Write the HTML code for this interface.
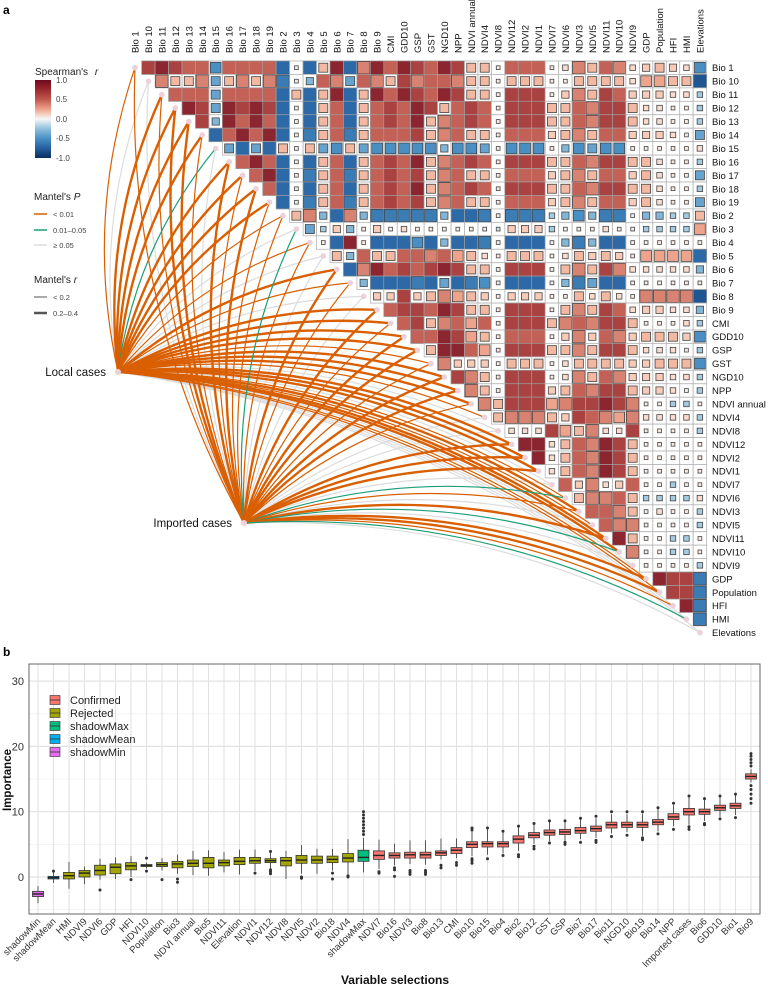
<!DOCTYPE html>
<html><head><meta charset="utf-8"><style>
body{margin:0;background:#fff;}
svg{display:block;font-family:"Liberation Sans",sans-serif;}
</style></head><body>
<svg id="fig" width="768" height="991" viewBox="0 0 768 991">
<text x="3" y="14" font-size="12" font-weight="bold">a</text>
<text x="3" y="656" font-size="12" font-weight="bold">b</text>
<g id="links"></g>
<g id="heat"></g>
<g id="legA">
<defs><linearGradient id="cbar" x1="0" y1="0" x2="0" y2="1">
<stop offset="0" stop-color="#6d0a1e"/><stop offset="0.125" stop-color="#9c2a30"/><stop offset="0.25" stop-color="#c0584f"/><stop offset="0.375" stop-color="#eea48c"/><stop offset="0.5" stop-color="#f7f7f7"/><stop offset="0.625" stop-color="#8fc0dc"/><stop offset="0.75" stop-color="#4a8fc4"/><stop offset="0.875" stop-color="#24609e"/><stop offset="1" stop-color="#0b2f5c"/></linearGradient></defs>
<text x="35" y="75" font-size="10" fill="#222">Spearman's <tspan font-style="italic" dx="4">r</tspan></text>
<rect x="35" y="80" width="16" height="78" fill="url(#cbar)"/>
<g font-size="8" fill="#444"><text x="56" y="83">1.0</text><text x="56" y="102">0.5</text><text x="56" y="122">0.0</text><text x="56" y="141">-0.5</text><text x="56" y="161">-1.0</text></g>
<text x="34" y="200" font-size="10" fill="#222">Mantel's <tspan font-style="italic">P</tspan></text>
<line x1="34" y1="214" x2="47" y2="214" stroke="#d95f02" stroke-width="1.5"/><text x="53" y="217" font-size="7.5" fill="#444">&lt; 0.01</text>
<line x1="34" y1="230" x2="47" y2="230" stroke="#1b9e77" stroke-width="1.5"/><text x="53" y="233" font-size="7.5" fill="#444">0.01–0.05</text>
<line x1="34" y1="245" x2="47" y2="245" stroke="#dcdcdc" stroke-width="1.5"/><text x="53" y="248" font-size="7.5" fill="#444">≥ 0.05</text>
<text x="34" y="283" font-size="10" fill="#222">Mantel's <tspan font-style="italic">r</tspan></text>
<line x1="34" y1="297" x2="47" y2="297" stroke="#555" stroke-width="1"/><text x="53" y="300" font-size="7.5" fill="#444">&lt; 0.2</text>
<line x1="34" y1="313" x2="47" y2="313" stroke="#555" stroke-width="2.5"/><text x="53" y="316" font-size="7.5" fill="#444">0.2–0.4</text>
</g>
<g id="box"></g>
</svg>
<script>
// ---------- Panel a data ----------
const vars = ["Bio 1","Bio 10","Bio 11","Bio 12","Bio 13","Bio 14","Bio 15","Bio 16","Bio 17","Bio 18","Bio 19","Bio 2","Bio 3","Bio 4","Bio 5","Bio 6","Bio 7","Bio 8","Bio 9","CMI","GDD10","GSP","GST","NGD10","NPP","NDVI annual","NDVI4","NDVI8","NDVI12","NDVI2","NDVI1","NDVI7","NDVI6","NDVI3","NDVI5","NDVI11","NDVI10","NDVI9","GDP","Population","HFI","HMI","Elevations"];
// Spearman r per upper-triangle row; letter code: K=0, U=+1.0, A=-1.0 (steps of 0.1)
const corrRows = [
"STSRRFRRRRDLDOTDQTRTSRTSOOLRRRLMQORQMNONMF",
"QOOQGOQOQELHRQGRQOSQRRQOOLOOOLLOOOOMPPOOC",
"RRRGRRRRDODOTDOTRTSRTSOOLSSSLNQOSRNNNMMI",
"TSGTSTSDLDORDORSRTSORSRLSSSOORQSSOMMLLI",
"SHTRTRDLDORDORSRTOQRSRLSSSOORQSSOMMLLI",
"DRTRTDLEOREORRRSOQROOLRRRNOQORRNNNMLG",
"GDGDOLOGFOGFFFFFHFFGLFFFLHFGFFLLLLLM",
"RTRDLDORDORSRTOQRSRLSSSOORQSSOOMLLI",
"RTDLEOREORSRSOQROOLRRRNOQORRNOMLLG",
"RDLDORDORSRTOQRSRLSSSOORQSSOOMLLI",
"DLEOREORSRSOQROOLRRRNOQORRNOMLLG",
"OQHDQHEEEEEHDDELEEEIHFHEELHHIIO",
"GINHLNLMLLLLLLJNNNILLLMLLIIIIP",
"LDTLDDDFDHDDELDDDLHEHDDLLLLLL",
"OHROORRQRPOMLOOOLMONONLPPPPD",
"DQTRSRSTSOOLSSSLOQOSQMMMMMH",
"HDDDEDGDEFLDDDLHEGDDLLLLLL",
"NNSNOQPONLNNNLLOMOMLQQQQC",
"RSSRTSOOLSSSLOQOSRMNNMMH",
"RSOQRPRLSSSOQRQSSOLLLMI",
"RRTSPOLRRRLNQNRQNOOONF",
"OTTRPLSSSOOQOSSOMMMLI",
"QNNNLOOOLMOOOONNOOOF",
"SQOLSSSLMQORQNNNMMI",
"QOLSSSNORQSSONNMLI",
"QOSSSPQSSTSQLLIIL",
"OQQQONSRQPQMMMMI",
"MMMSPOQMMSLLLLI",
"TTMORQTSOLLLLL",
"TMORQTSOLLLLL",
"MORQTSOLLLLL",
"RNQMNRLLILL",
"OQQROIIIIM",
"RRQOLMLLI",
"RQQLLLLI",
"TOLLIIL",
"QLLIIL",
"LLLLI",
"TSSE","SSE","TE","E"];
// Mantel P class (0:<0.01, 1:0.01-0.05, 2:>=0.05) and r class (0:<0.2, 1:0.2-0.4)
const localP = [0,2,0,0,0,0,1,0,0,0,0,0,2,0,2,0,0,2,0,0,0,0,0,0,0,0,0,2,0,0,0,2,0,0,0,0,0,2,0,0,2,2,2];
const localR = [0,0,1,1,1,1,0,1,1,1,1,0,0,0,0,1,0,0,1,1,1,1,0,1,1,1,0,0,1,1,1,0,0,1,0,1,1,0,0,0,0,0,0];
const importP = [0,2,0,0,0,0,2,0,0,0,0,0,1,0,2,0,0,2,0,0,0,0,0,0,0,0,2,2,0,0,0,2,1,0,2,0,1,2,0,0,0,1,2];
const importR = [0,0,0,1,1,0,0,1,0,1,0,0,0,0,0,1,0,0,1,0,1,1,0,1,1,0,0,0,1,1,1,0,0,0,0,1,0,0,1,1,0,0,0];
const origins = ["Local cases","Imported cases"];

const NS="http://www.w3.org/2000/svg";
function mk(tag,attrs,parent){const e=document.createElementNS(NS,tag);for(const k in attrs)e.setAttribute(k,attrs[k]);if(parent)parent.appendChild(e);return e;}
const CELL=13.45, X0=135, Y0=67.7;
const cx=j=>X0+CELL*j, cy=i=>Y0+CELL*i;
const stops=[[-1,[11,47,92]],[-0.75,[36,96,158]],[-0.5,[74,143,196]],[-0.25,[143,192,220]],[0,[247,247,247]],[0.25,[251,213,196]],[0.5,[238,164,140]],[0.75,[184,80,74]],[1,[109,10,30]]];
function col(r){for(let k=0;k<stops.length-1;k++){const a=stops[k],b=stops[k+1];if(r<=b[0]){const t=(r-a[0])/(b[0]-a[0]);const c=a[1].map((v,m)=>Math.round(v+(b[1][m]-v)*t));return `rgb(${c})`;}}return "rgb(109,10,30)";}

// heatmap
const heat=document.getElementById('heat');
corrRows.forEach((s,i)=>{
  for(let k=0;k<s.length;k++){
    const j=i+1+k; const r=(s.charCodeAt(k)-75)/10;
    mk('rect',{x:cx(j)-CELL/2,y:cy(i)-CELL/2,width:CELL,height:CELL,fill:'#fff',stroke:'#b5b5b5','stroke-width':0.8},heat);
    const side=Math.min(1,0.15+Math.abs(r)*1.3)*CELL;
    const full=side>=CELL-0.01;
    const sq=mk('rect',{x:cx(j)-side/2,y:cy(i)-side/2,width:side,height:side,fill:col(r),stroke:full?'#9a9a9a':'#444','stroke-width':full?0.6:0.8},heat);
    
    
  }
});
vars.forEach((v,j)=>{
  const t=mk('text',{x:0,y:0,'font-size':9.5,fill:'#111',transform:`translate(${cx(j)+3.5},53) rotate(-90)`},heat);
  t.textContent=v;
  
  
  const t2=mk('text',{x:712,y:cy(j)+3.5,'font-size':9.5,fill:'#111'},heat);
  t2.textContent=v;
  
  
});

// mantel links
const links=document.getElementById('links');
const nodes=[[118,372],[244,523]];
const pc=['#d95f02','#1b9e77','#dcdcdc'];
function drawLinks(pass){
  [[localP,localR],[importP,importR]].forEach((pr,o)=>{
    const [P,R]=pr; const [ox,oy]=nodes[o];
    vars.forEach((v,i)=>{
      const isGray=P[i]===2; if((pass===0)!==isGray) return;
      const tx=cx(i), ty=cy(i); const dx=tx-ox, dy=ty-oy;
      const mx=(ox+tx)/2+0.14*dy, my=(oy+ty)/2-0.14*dx;
      const p=mk('path',{d:`M${ox},${oy}Q${mx},${my} ${tx},${ty}`,fill:'none',stroke:pc[P[i]],'stroke-width':R[i]?2.4:1.2},links);
      
      
    });
  });
}
drawLinks(0);drawLinks(1);
vars.forEach((v,i)=>{mk('circle',{cx:cx(i),cy:cy(i),r:2.8,fill:'#ecd0dc'},links);});
nodes.forEach((n,o)=>{
  mk('circle',{cx:n[0],cy:n[1],r:3,fill:'#ecd0dc'},links);
  const t=mk('text',{x:n[0]-12,y:n[1]+4,'font-size':11.5,fill:'#111','text-anchor':'end'},links);
  t.textContent=origins[o];
  
  
});

// ---------- Panel b data ----------
const bCats=["shadowMin","shadowMean","HMI","NDVI9","NDVI6","GDP","HFI","NDVI10","Population","Bio3","NDVI annual","Bio5","NDVI11","Elevation","NDVI1","NDVI12","NDVI8","NDVI5","NDVI2","Bio18","NDVI4","shadowMax","NDVI7","Bio16","NDVI3","Bio8","Bio13","CMI","Bio10","Bio15","Bio4","Bio2","Bio12","GST","GSP","Bio7","Bio17","Bio11","NGD10","Bio19","Bio14","NPP","Imported cases","Bio6","GDD10","Bio1","Bio9"];
const bGroup=[4,3,1,1,1,1,1,1,1,1,1,1,1,1,1,1,1,1,1,1,1,2,0,0,0,0,0,0,0,0,0,0,0,0,0,0,0,0,0,0,0,0,0,0,0,0,0];
const bMed=[-2.6,-0.1,0.2,0.6,1.0,1.5,1.7,1.8,1.9,2.0,2.1,2.1,2.2,2.4,2.5,2.5,2.5,2.6,2.6,2.7,2.9,3.0,3.3,3.3,3.4,3.4,3.7,4.1,5.0,5.1,5.1,5.8,6.4,6.8,6.9,7.1,7.4,8.0,8.0,8.0,8.4,9.2,10.0,10.0,10.6,10.9,15.4];
const bQ1=[-3.0,-0.3,-0.3,0.0,0.3,0.5,1.1,1.6,1.6,1.4,1.6,1.4,1.7,1.9,2.1,2.2,1.7,2.1,2.1,2.2,2.3,2.4,2.7,2.9,2.9,2.9,3.3,3.6,4.5,4.6,4.6,5.2,6.0,6.4,6.5,6.7,7.0,7.5,7.6,7.6,8.0,8.8,9.5,9.6,10.2,10.5,15.0];
const bQ3=[-2.2,0.1,0.7,1.0,1.8,2.0,2.2,1.9,2.2,2.4,2.6,3.0,2.6,3.0,3.0,2.8,3.0,3.3,3.2,3.2,3.6,4.1,4.0,3.7,3.8,3.8,4.0,4.5,5.4,5.4,5.4,6.3,6.8,7.2,7.3,7.6,7.8,8.4,8.4,8.4,8.8,9.7,10.5,10.4,11.0,11.3,15.8];
const bLo=[-4.0,-0.9,-1.8,-1.1,-0.4,-0.3,0.0,1.3,1.0,0.5,0.3,0.2,0.7,0.4,0.9,1.3,-0.3,0.5,0.5,1.0,0.5,0.7,1.2,1.8,2.0,1.9,2.7,2.9,3.2,3.4,3.6,4.0,5.1,5.5,5.4,5.8,6.0,6.7,6.9,6.3,7.0,7.8,8.0,8.6,9.2,9.5,14.5];
const bHi=[-1.4,0.8,2.3,1.6,2.8,3.0,3.2,2.2,2.9,3.4,4.0,4.1,3.8,4.2,4.2,3.7,4.0,4.9,4.3,4.3,5.8,6.0,5.7,5.1,5.6,5.6,5.9,5.9,7.1,7.3,6.8,7.6,8.0,8.4,8.4,8.8,9.0,9.6,9.6,9.7,10.4,11.0,12.3,11.8,12.2,12.5,16.5];
const bOut=[[],[0.9],[],[],[-2.0],[],[-0.4],[0.9,2.9],[-0.4],[-0.3,-0.8],[],[],[],[],[0.6],[0.5,0.8,1.1,3.9],[],[0,-0.2],[],[0.6,-0.3],[0,0.2],[6.5,7,7.5,8,8.5,9,9.5,10],[0.6,0.8],[0.1,1.1,1.4],[0.4,0.7,1.0],[0.4,0.7,1.0],[1.4,1.8],[1.8,2.2],[2.1,2.5,2.8,7.2,7.5],[2.8,7.5],[3.3,7.0],[3.1,3.4,7.8],[4.3,4.7,8.2],[5.2,8.6],[5.0,5.3,8.6],[5.3,9.0],[5.3,5.6,9.3],[6.2,10.0],[6.4,10.0],[5.7,6.0,10.0],[6.6,10.6],[7.3,11.3],[7.3,7.7,12.4],[8.0,8.2,12.0],[8.9,12.4],[9.1,12.7],[11.3,12,12.7,13.4,14.0,17.0,17.5,18.0,18.5,18.9]];
const bGroups=["Confirmed","Rejected","shadowMax","shadowMean","shadowMin"];
const bTicks=[0,10,20,30];

const gcol=['#f8766d','#a3a500','#00bf7d','#00b0f6','#e76bf3'];
const box=document.getElementById('box');
const PL=29,PR=760,PT=664,PB=914;
const yv=v=>877-v*6.53;
const xb=i=>38+i*(751-38)/(bCats.length-1);
mk('rect',{x:PL,y:PT,width:PR-PL,height:PB-PT,fill:'#fff'},box);
[-5,5,15,25].forEach(v=>mk('line',{x1:PL,x2:PR,y1:yv(v),y2:yv(v),stroke:'#f0f0f0','stroke-width':0.7},box));
bTicks.forEach(v=>{
  mk('line',{x1:PL,x2:PR,y1:yv(v),y2:yv(v),stroke:'#e2e2e2','stroke-width':1.2},box);
  const t=mk('text',{x:PL-5,y:yv(v)+4,'font-size':11,fill:'#333','text-anchor':'end'},box);
  t.textContent=v;
  
  
});
bCats.forEach((c,i)=>mk('line',{x1:xb(i),x2:xb(i),y1:PT,y2:PB,stroke:'#e2e2e2','stroke-width':1.1},box));
const bw=11;
bCats.forEach((c,i)=>{
  const x=xb(i), g=gcol[bGroup[i]];
  mk('line',{x1:x,x2:x,y1:yv(bHi[i]),y2:yv(bLo[i]),stroke:'#333','stroke-width':0.8},box);
  const r=mk('rect',{x:x-bw/2,y:yv(bQ3[i]),width:bw,height:Math.max(1,yv(bQ1[i])-yv(bQ3[i])),fill:g,stroke:'#333','stroke-width':0.8},box);
  
  
  mk('line',{x1:x-bw/2,x2:x+bw/2,y1:yv(bMed[i]),y2:yv(bMed[i]),stroke:'#222','stroke-width':1.4},box);
  bOut[i].forEach(o=>mk('circle',{cx:x,cy:yv(o),r:1.5,fill:'#333'},box));
  const t=mk('text',{x:0,y:0,'font-size':9.5,fill:'#333','text-anchor':'end',transform:`translate(${x+3},${PB+8}) rotate(-45)`},box);
  t.textContent=c;
  
  
});
mk('rect',{x:PL,y:PT,width:PR-PL,height:PB-PT,fill:'none',stroke:'#555','stroke-width':0.9},box);
bGroups.forEach((g,k)=>{
  const y=700+k*13;
  const kr=mk('rect',{x:50,y:y-4.5,width:10,height:9,fill:gcol[k],stroke:'#444','stroke-width':0.7},box);
  
  
  mk('line',{x1:50,x2:60,y1:y,y2:y,stroke:'#333','stroke-width':0.8},box);
  const t=mk('text',{x:70,y:y+4,'font-size':11,fill:'#222'},box);
  t.textContent=g;
  
  
});
const yl=mk('text',{x:0,y:0,'font-size':11.5,'font-weight':'bold',fill:'#111','text-anchor':'middle',transform:'translate(11,780) rotate(-90)'},box);
yl.textContent='Importance';


const xl=mk('text',{x:395,y:984,'font-size':12,'font-weight':'bold',fill:'#111','text-anchor':'middle'},box);
xl.textContent='Variable selections';


</script>
</body></html>
